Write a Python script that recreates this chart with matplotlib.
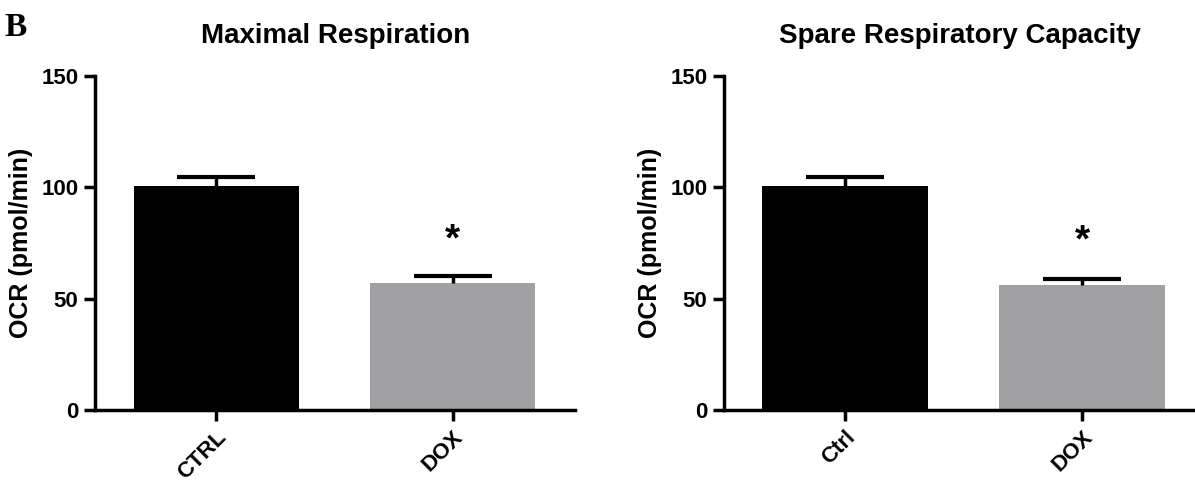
import matplotlib
matplotlib.use("Agg")
import matplotlib.pyplot as plt

titles = ["Maximal Respiration", "Spare Respiratory Capacity"]
cats_left = ["CTRL", "DOX"]
cats_right = ["Ctrl", "DOX"]
vals_left = [100.4, 56.9]
err_left = [4.1, 3.3]
vals_right = [100.4, 56.0]
err_right = [4.3, 3.0]
star_y = [76, 75.5]
yticks = [0, 50, 100, 150]

colors = ["#000000", "#a1a1a4"]
plt.rcParams['font.family'] = ['Liberation Sans', 'DejaVu Sans']

fig = plt.figure(figsize=(11.95, 4.87), dpi=100)
axL = fig.add_axes([0.0795, 0.158, 0.402, 0.686])
axR = fig.add_axes([0.606, 0.158, 0.394, 0.686])

panels = [(axL, cats_left, vals_left, err_left, titles[0], star_y[0], (-0.513, 1.52)),
          (axR, cats_right, vals_right, err_right, titles[1], star_y[1], (-0.51, 1.477))]

for ax, cats, vals, errs, title, sy, xl in panels:
    x = list(range(len(cats)))
    ax.bar(x, vals, width=0.70, color=colors, edgecolor='none', zorder=2)
    eb = ax.errorbar(x, vals, yerr=[[0]*len(vals), errs], fmt='none', ecolor='black',
                     elinewidth=2.5, capsize=28, capthick=3, zorder=3)
    caps = eb.lines[1]
    if len(caps) == 2:
        caps[0].set_visible(False)
    ax.text(1, sy, "*", ha='center', va='center', fontsize=28, fontweight='bold')
    ax.set_xlim(*xl)
    ax.set_ylim(0, 150)
    ax.set_yticks(yticks)
    ax.set_yticklabels([str(t) for t in yticks], fontsize=16, fontweight='bold')
    ax.set_xticks(x)
    ax.set_xticklabels(cats, rotation=45, ha='right', rotation_mode='anchor',
                       fontsize=16, fontweight='bold')
    ax.spines['top'].set_visible(False)
    ax.spines['right'].set_visible(False)
    ax.spines['left'].set_linewidth(2.5)
    ax.spines['bottom'].set_linewidth(2.5)
    ax.tick_params(axis='both', width=2.5, length=8, direction='out', pad=4)
    ax.set_ylabel("OCR (pmol/min)", fontsize=18, fontweight='bold', labelpad=6)
    ax.set_title(title, fontsize=20, fontweight='bold', pad=24)

fig.text(0.004, 0.975, "B", fontsize=24, fontweight='bold', family='Liberation Serif',
         ha='left', va='top')

fig.savefig("out.png", dpi=100)
